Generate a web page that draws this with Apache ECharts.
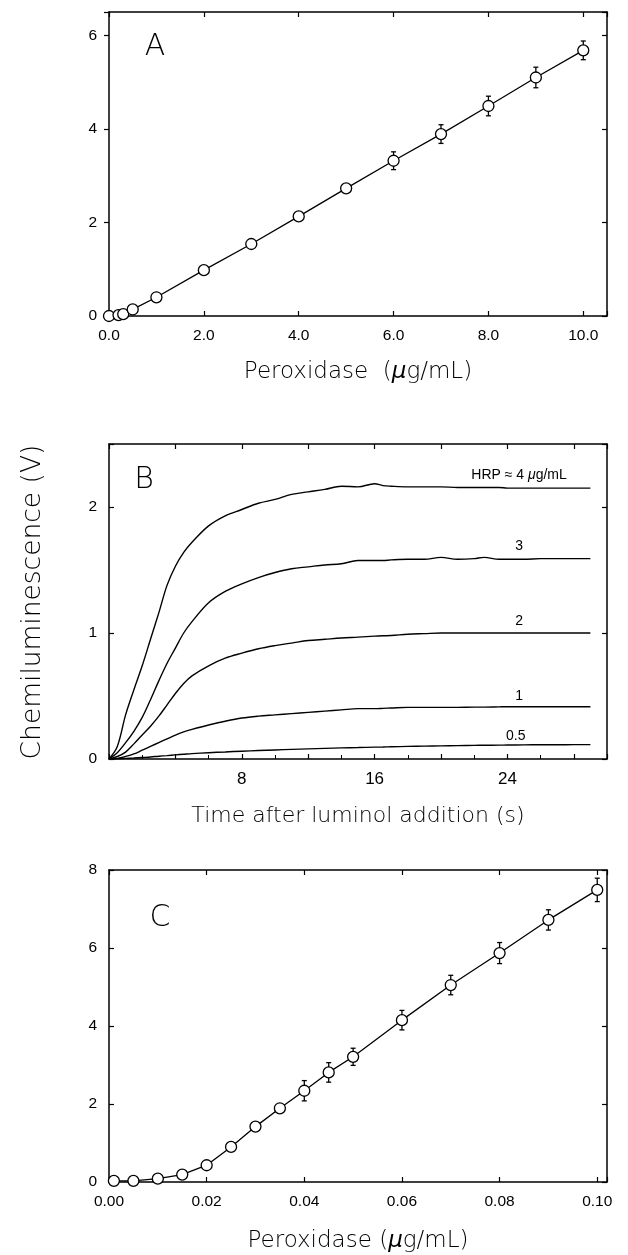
<!DOCTYPE html>
<html><head><meta charset="utf-8">
<script src="https://cdn.jsdelivr.net/npm/echarts@6/dist/echarts.min.js"></script>
<style>html,body{margin:0;padding:0;background:#fff}#c{width:628px;height:1255px}</style>
</head><body><div id="c"></div>
<script>
// ---- Panel A: peroxidase 0-10 ug/mL ----
const aX   = [0, 0.2, 0.3, 0.5, 1, 2, 3, 4, 5, 6, 7, 8, 9, 10];
const aY   = [0, 0.02, 0.04, 0.14, 0.40, 0.98, 1.54, 2.13, 2.73, 3.32, 3.89, 4.49, 5.10, 5.68];
const aErr = [0, 0, 0, 0, 0, 0, 0, 0, 0, 0.19, 0.20, 0.21, 0.22, 0.20];
const aXTickLabels = ['0.0', '2.0', '4.0', '6.0', '8.0', '10.0'];
const aYTickLabels = ['0', '2', '4', '6'];

// ---- Panel B: kinetics ----
const bTime = [0,0.5,1,1.5,2,2.5,3,3.5,4,4.5,5,6,7,8,9,10,11,12,13,14,15,16,16.5,17,18,19,20,21,22,22.6,23.5,24,25,26,27,28,29];
const bHRP4 = [0,0.10,0.35,0.55,0.74,0.95,1.16,1.38,1.53,1.64,1.72,1.85,1.93,1.98,2.03,2.06,2.10,2.12,2.14,2.165,2.16,2.185,2.17,2.165,2.16,2.16,2.16,2.155,2.155,2.155,2.155,2.15,2.15,2.15,2.15,2.15,2.15];
const bHRP3 = [0,0.05,0.13,0.22,0.33,0.47,0.62,0.76,0.88,1.0,1.09,1.24,1.33,1.39,1.44,1.48,1.51,1.525,1.54,1.55,1.575,1.575,1.575,1.58,1.585,1.585,1.60,1.585,1.59,1.60,1.585,1.585,1.585,1.59,1.59,1.59,1.59];
const bHRP2 = [0,0.02,0.055,0.12,0.19,0.26,0.34,0.43,0.52,0.60,0.66,0.74,0.80,0.84,0.875,0.90,0.92,0.94,0.95,0.96,0.967,0.975,0.978,0.98,0.99,0.995,1.0,1.0,1.0,1.0,1.0,1.0,1.0,1.0,1.0,1.0,1.0];
const bHRP1 = [0,0.005,0.02,0.04,0.07,0.10,0.13,0.16,0.19,0.215,0.235,0.27,0.30,0.325,0.34,0.35,0.36,0.37,0.38,0.39,0.40,0.40,0.402,0.405,0.41,0.41,0.41,0.41,0.412,0.412,0.414,0.415,0.415,0.415,0.415,0.415,0.415];
const bHRP05 = [0,0.002,0.005,0.008,0.012,0.016,0.022,0.027,0.033,0.038,0.043,0.05,0.056,0.062,0.067,0.072,0.076,0.08,0.084,0.088,0.091,0.094,0.095,0.097,0.1,0.102,0.104,0.106,0.108,0.109,0.11,0.111,0.112,0.113,0.113,0.114,0.114];
const bCurveNames = ['HRP \u2248 4 {i|\u03bc}g/mL', '3', '2', '1', '0.5'];
const bLabelPos = [[24.7, 2.25], [24.7, 1.69], [24.7, 1.095], [24.7, 0.50], [24.5, 0.18]];
const bXTickLabels = ['8', '16', '24'];
const bYTickLabels = ['0', '1', '2'];

// ---- Panel C: peroxidase 0-0.1 ug/mL ----
const cX   = [0.001, 0.005, 0.01, 0.015, 0.02, 0.025, 0.03, 0.035, 0.04, 0.045, 0.05, 0.06, 0.07, 0.08, 0.09, 0.10];
const cY   = [0.03, 0.03, 0.085, 0.19, 0.43, 0.90, 1.42, 1.89, 2.34, 2.81, 3.21, 4.15, 5.05, 5.87, 6.72, 7.49];
const cErr = [0, 0, 0, 0, 0, 0, 0, 0, 0.26, 0.25, 0.22, 0.25, 0.25, 0.27, 0.26, 0.30];
const cXTickLabels = ['0.00', '0.02', '0.04', '0.06', '0.08', '0.10'];
const cYTickLabels = ['0', '2', '4', '6', '8'];

const TICKFONT = '"Liberation Sans", Arial, sans-serif';
const TITLEFONT = '"DejaVu Sans", sans-serif';

function fmt(list) {
  return function (v) {
    const s = list.find(l => Math.abs(parseFloat(l) - v) < 1e-9);
    return s === undefined ? '' : s;
  };
}
const lineStyle = { color: '#000', width: 1.5 };
function mainAxis(gridIndex, pos, min, max, interval, labels, extra, fs) {
  return Object.assign({
    gridIndex, type: 'value', position: pos, min, max, interval,
    axisLine: { show: true, onZero: false, lineStyle },
    axisTick: { show: true, inside: true, length: 5, lineStyle: { color: '#000', width: 1.2 } },
    axisLabel: { show: true, margin: 12, fontSize: fs || 15.5, color: '#000', fontFamily: TICKFONT, formatter: fmt(labels), showMaxLabel: true },
    splitLine: { show: false }
  }, extra || {});
}
function mirrorAxis(gridIndex, pos, min, max, interval) {
  return {
    gridIndex, type: 'value', position: pos, min, max, interval,
    axisLine: { show: true, onZero: false, lineStyle },
    axisTick: { show: true, inside: true, length: 5, lineStyle: { color: '#000', width: 1.2 } },
    axisLabel: { show: false }, splitLine: { show: false }
  };
}
function nameStyle(fs) {
  return { fontSize: fs, color: '#000', fontFamily: TITLEFONT, fontWeight: 300,
    rich: { i: { fontSize: fs, fontStyle: 'italic', color: '#000', fontFamily: TITLEFONT, fontWeight: 300 } } };
}

function errRender(params, api) {
  const x = api.value(0), y = api.value(1), e = api.value(2);
  if (!e) return null;
  const t = api.coord([x, y + e]), b = api.coord([x, y - e]);
  const w = 2.5, st = { stroke: '#000', lineWidth: 1.3 };
  return { type: 'group', children: [
    { type: 'line', shape: { x1: t[0], y1: t[1], x2: b[0], y2: b[1] }, style: st },
    { type: 'line', shape: { x1: t[0] - w, y1: t[1], x2: t[0] + w, y2: t[1] }, style: st },
    { type: 'line', shape: { x1: b[0] - w, y1: b[1], x2: b[0] + w, y2: b[1] }, style: st }
  ] };
}
const pointSeries = (xi, yi, xs, ys) => ({
  type: 'line', xAxisIndex: xi, yAxisIndex: yi, z: 3,
  data: xs.map((x, i) => [x, ys[i]]),
  symbol: 'circle', symbolSize: 11, showSymbol: true,
  itemStyle: { color: '#fff', borderColor: '#000', borderWidth: 1.3 },
  lineStyle: { color: '#000', width: 1.3 }, silent: true
});
const errSeries = (xi, yi, xs, ys, es) => ({
  type: 'custom', xAxisIndex: xi, yAxisIndex: yi, z: 1, silent: true,
  encode: { x: 0, y: 1 },
  data: xs.map((x, i) => [x, ys[i], es[i]]),
  renderItem: errRender
});
const bSeriesData = [bHRP4, bHRP3, bHRP2, bHRP1, bHRP05];
const bSeries = bSeriesData.map((arr, k) => ({
  type: 'line', xAxisIndex: 2, yAxisIndex: 2, showSymbol: false, silent: true, smooth: 0.35,
  data: bTime.map((t, i) => [t, arr[i]]),
  lineStyle: { color: '#000', width: 1.4 },
  markPoint: {
    symbol: 'circle', symbolSize: 0, silent: true,
    data: [{ coord: bLabelPos[k], value: bCurveNames[k] }],
    label: { show: true, position: 'inside', formatter: bCurveNames[k], color: '#000',
      fontSize: 14, fontFamily: TICKFONT,
      rich: { i: { fontSize: 14, fontStyle: 'italic', color: '#000', fontFamily: TICKFONT } } }
  }
}));

const chart = echarts.init(document.getElementById('c'), null, { renderer: 'canvas' });
chart.setOption({
  animation: false,
  backgroundColor: '#fff',
  grid: [
    { left: 109, top: 12, width: 498, height: 304 },
    { left: 109, top: 444, width: 498, height: 315 },
    { left: 109, top: 870, width: 498, height: 312 }
  ],
  xAxis: [
    mainAxis(0, 'bottom', 0, 10.5, 2, aXTickLabels, { name: 'Peroxidase  ({i|\u03bc}g/mL)', nameLocation: 'middle', nameGap: 45, nameTextStyle: nameStyle(23) }),
    mirrorAxis(0, 'top', 0, 10.5, 2),
    mainAxis(1, 'bottom', 0, 30, 4, bXTickLabels, { name: 'Time after luminol addition (s)', nameLocation: 'middle', nameGap: 46, nameTextStyle: nameStyle(22),
      minorTick: { show: true, splitNumber: 2, length: 4, lineStyle: { color: '#000', width: 1 } } }, 17),
    mirrorAxis(1, 'top', 0, 30, 4),
    mainAxis(2, 'bottom', 0, 0.102, 0.02, cXTickLabels, { name: 'Peroxidase ({i|\u03bc}g/mL)', nameLocation: 'middle', nameGap: 48, nameTextStyle: nameStyle(23) }),
    mirrorAxis(2, 'top', 0, 0.102, 0.02)
  ],
  yAxis: [
    mainAxis(0, 'left', 0, 6.5, 2, aYTickLabels, { axisTick: { show: true, inside: false, length: 5, lineStyle: { color: '#000', width: 1.2 } } }),
    mirrorAxis(0, 'right', 0, 6.5, 2),
    mainAxis(1, 'left', 0, 2.5, 1, bYTickLabels),
    mirrorAxis(1, 'right', 0, 2.5, 1),
    mainAxis(2, 'left', 0, 8, 2, cYTickLabels),
    mirrorAxis(2, 'right', 0, 8, 2)
  ],
  graphic: [
    { type: 'text', x: 155, y: 47, silent: true, style: { text: 'A', fontSize: 30, fontFamily: TITLEFONT, fontWeight: 200, fill: '#000', align: 'center', verticalAlign: 'middle', textAlign: 'center', textVerticalAlign: 'middle' } },
    { type: 'text', x: 144, y: 480, silent: true, style: { text: 'B', fontSize: 30, fontFamily: TITLEFONT, fontWeight: 200, fill: '#000', align: 'center', verticalAlign: 'middle', textAlign: 'center', textVerticalAlign: 'middle' } },
    { type: 'text', x: 160, y: 918, silent: true, style: { text: 'C', fontSize: 30, fontFamily: TITLEFONT, fontWeight: 200, fill: '#000', align: 'center', verticalAlign: 'middle', textAlign: 'center', textVerticalAlign: 'middle' } },
    { type: 'text', x: 33, y: 602, rotation: Math.PI / 2, silent: true, style: { text: 'Chemiluminescence (V)', fontSize: 26.5, fontFamily: TITLEFONT, fontWeight: 300, fill: '#000', align: 'center', verticalAlign: 'middle', textAlign: 'center', textVerticalAlign: 'middle' } }
  ],
  series: [
    errSeries(0, 0, aX, aY, aErr),
    pointSeries(0, 0, aX, aY),
    ...bSeries,
    errSeries(4, 4, cX, cY, cErr),
    pointSeries(4, 4, cX, cY)
  ]
});
</script></body></html>
